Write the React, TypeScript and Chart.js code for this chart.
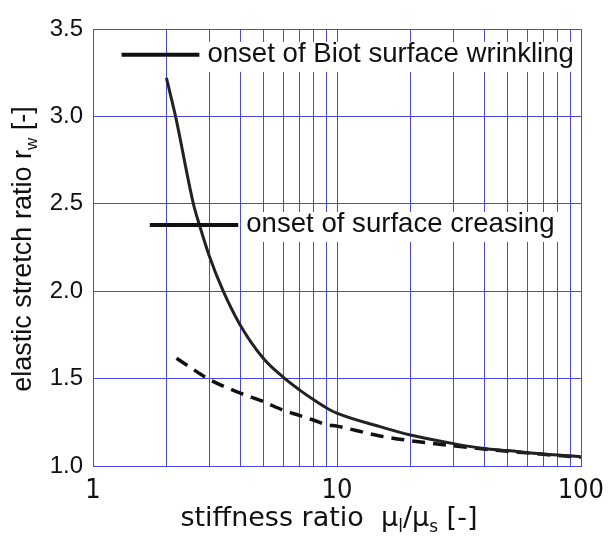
import { useEffect, useRef } from 'react';
import { Chart, registerables } from 'chart.js';

Chart.register(...registerables);

// ---- data ----
const xTickValues = [1, 2, 3, 4, 5, 6, 7, 8, 9, 10, 20, 30, 40, 50, 60, 70, 80, 90, 100];
const xLabelValues = [1, 10, 100];
const yMin = 1.0;
const yMax = 3.5;
const yStep = 0.5;

const wrinklingX = [2, 2.18, 2.58, 2.73, 3, 3.42, 4, 5, 6, 7, 8, 9, 10, 15, 20, 30, 40, 50, 70, 100];
const wrinklingY = [3.22, 3.0, 2.5, 2.38, 2.2, 2.0, 1.81, 1.615, 1.51, 1.437, 1.38, 1.335, 1.302, 1.225, 1.177, 1.128, 1.1, 1.088, 1.069, 1.053];

const creasingX = [2.2, 2.5, 3, 4, 5, 6, 7, 8, 9, 10, 15, 20, 30, 40, 50, 70, 100];
const creasingY = [1.616, 1.565, 1.495, 1.418, 1.368, 1.32, 1.29, 1.263, 1.238, 1.228, 1.172, 1.145, 1.116, 1.097, 1.085, 1.067, 1.05];

const legendLabels = ['onset of Biot surface wrinkling', 'onset of surface creasing'];
const legendLineX = [[1.31, 2.73], [1.71, 3.94]];
const legendLineY = [3.352, 2.379];

const xTitleParts = [
  { t: 'stiffness ratio  \u03bc', sub: false },
  { t: 'l', sub: true },
  { t: '/\u03bc', sub: false },
  { t: 's', sub: true },
  { t: ' [-]', sub: false },
];
const yTitleParts = [
  { t: 'elastic stretch ratio r', sub: false },
  { t: 'w', sub: true },
  { t: ' [-]', sub: false },
];

const GRID = 'rgb(72,72,224)';
const ARIAL = "'Liberation Sans', Arial, sans-serif";
const DEJAVU = "'DejaVu Sans', Verdana, sans-serif";

function drawParts(ctx: CanvasRenderingContext2D, parts: any[], family: string, size: number, subSize: number, subDrop: number, cx: number, baseline: number) {
  const fontMain = `${size}px ${family}`;
  const fontSub = `${subSize}px ${family}`;
  let total = 0;
  const widths = parts.map((p) => {
    ctx.font = p.sub ? fontSub : fontMain;
    const w = ctx.measureText(p.t).width;
    total += w;
    return w;
  });
  let x = cx - total / 2;
  ctx.textAlign = 'left';
  ctx.textBaseline = 'alphabetic';
  parts.forEach((p, i) => {
    ctx.font = p.sub ? fontSub : fontMain;
    ctx.fillText(p.t, x, baseline + (p.sub ? subDrop : 0));
    x += widths[i];
  });
}

const overlayPlugin = {
  id: 'overlay',
  beforeDatasetsDraw(chart: any) {
    const ctx = chart.ctx as CanvasRenderingContext2D;
    const xs = chart.scales.x;
    const ys = chart.scales.y;
    const a = chart.chartArea;
    ctx.save();
    // vertical grid lines at every x tick
    ctx.fillStyle = GRID;
    xTickValues.forEach((v) => {
      const px = Math.round(xs.getPixelForValue(v));
      ctx.fillRect(px, Math.round(a.top), 1, Math.round(a.bottom) - Math.round(a.top) + 1);
    });
    // white boxes behind legend texts
    ctx.font = `27.6px ${ARIAL}`;
    legendLabels.forEach((label, i) => {
      const x1 = xs.getPixelForValue(legendLineX[i][1]);
      const y = ys.getPixelForValue(legendLineY[i]);
      const w = ctx.measureText(label).width;
      ctx.fillStyle = '#ffffff';
      ctx.fillRect(x1 + 3, y - 13, w + 9, 30);
    });
    ctx.restore();
  },
  afterDatasetsDraw(chart: any) {
    const ctx = chart.ctx as CanvasRenderingContext2D;
    const xs = chart.scales.x;
    const ys = chart.scales.y;
    ctx.save();
    legendLabels.forEach((label, i) => {
      const x0 = xs.getPixelForValue(legendLineX[i][0]);
      const x1 = xs.getPixelForValue(legendLineX[i][1]);
      const y = ys.getPixelForValue(legendLineY[i]);
      ctx.strokeStyle = '#111111';
      ctx.lineWidth = 4;
      ctx.setLineDash([]);
      ctx.beginPath();
      ctx.moveTo(x0, y);
      ctx.lineTo(x1, y);
      ctx.stroke();
      ctx.fillStyle = '#111111';
      ctx.font = `27.6px ${ARIAL}`;
      ctx.textAlign = 'left';
      ctx.textBaseline = 'alphabetic';
      ctx.fillText(label, x1 + 8, y + 7.5);
    });
    ctx.restore();
  },
  afterDraw(chart: any) {
    const ctx = chart.ctx as CanvasRenderingContext2D;
    const a = chart.chartArea;
    ctx.save();
    ctx.fillStyle = '#111111';
    drawParts(ctx, xTitleParts, DEJAVU, 27, 17, 6, (a.left + a.right) / 2 - 8, 526);
    ctx.translate(31, (a.top + a.bottom) / 2 + 1.5);
    ctx.rotate(-Math.PI / 2);
    drawParts(ctx, yTitleParts, ARIAL, 27, 17, 6, 0, 0);
    ctx.restore();
  },
};

export default function App() {
  const ref = useRef<HTMLCanvasElement | null>(null);
  useEffect(() => {
    if (!ref.current) return;
    const chart = new Chart(ref.current, {
      type: 'line',
      data: {
        datasets: [
          {
            label: legendLabels[0],
            data: wrinklingX.map((x, i) => ({ x, y: wrinklingY[i] })),
            borderColor: '#222222',
            borderWidth: 3,
            pointRadius: 0,
            cubicInterpolationMode: 'monotone',
            fill: false,
          },
          {
            label: legendLabels[1],
            data: creasingX.map((x, i) => ({ x, y: creasingY[i] })),
            borderColor: '#111111',
            borderWidth: 3.5,
            borderDash: [13, 8],
            pointRadius: 0,
            cubicInterpolationMode: 'monotone',
            fill: false,
          },
        ],
      },
      options: {
        animation: false,
        responsive: false,
        devicePixelRatio: 1,
        layout: { padding: { left: 0, top: 29, right: 30, bottom: 0 } },
        plugins: { legend: { display: false }, tooltip: { enabled: false } },
        scales: {
          x: {
            type: 'logarithmic',
            min: 1,
            max: 100,
            afterBuildTicks: (scale: any) => {
              scale.ticks = xLabelValues.map((v) => ({ value: v, major: true }));
            },
            afterFit: (scale: any) => {
              scale.height = 73;
            },
            grid: { display: false, drawTicks: false },
            border: { color: GRID, width: 1 },
            ticks: {
              autoSkip: false,
              maxRotation: 0,
              padding: 9,
              color: '#111111',
              font: { family: "'DejaVu Sans Condensed', 'DejaVu Sans', sans-serif", size: 27 },
              callback: (v: any) => String(v),
            },
          },
          y: {
            type: 'linear',
            min: yMin,
            max: yMax,
            afterFit: (scale: any) => {
              scale.width = 93;
            },
            grid: { color: GRID, lineWidth: 1, drawTicks: false },
            border: { color: GRID, width: 1 },
            ticks: {
              stepSize: yStep,
              padding: 10,
              color: '#111111',
              font: { family: ARIAL, size: 24 },
              callback: (v: any) => Number(v).toFixed(1),
            },
          },
        },
      },
      plugins: [overlayPlugin],
    } as any);
    return () => chart.destroy();
  }, []);
  return (
    <div style={{ position: 'absolute', left: 0, top: 0, width: 613, height: 539, background: '#ffffff' }}>
      <canvas ref={ref} width={613} height={539} />
    </div>
  );
}
